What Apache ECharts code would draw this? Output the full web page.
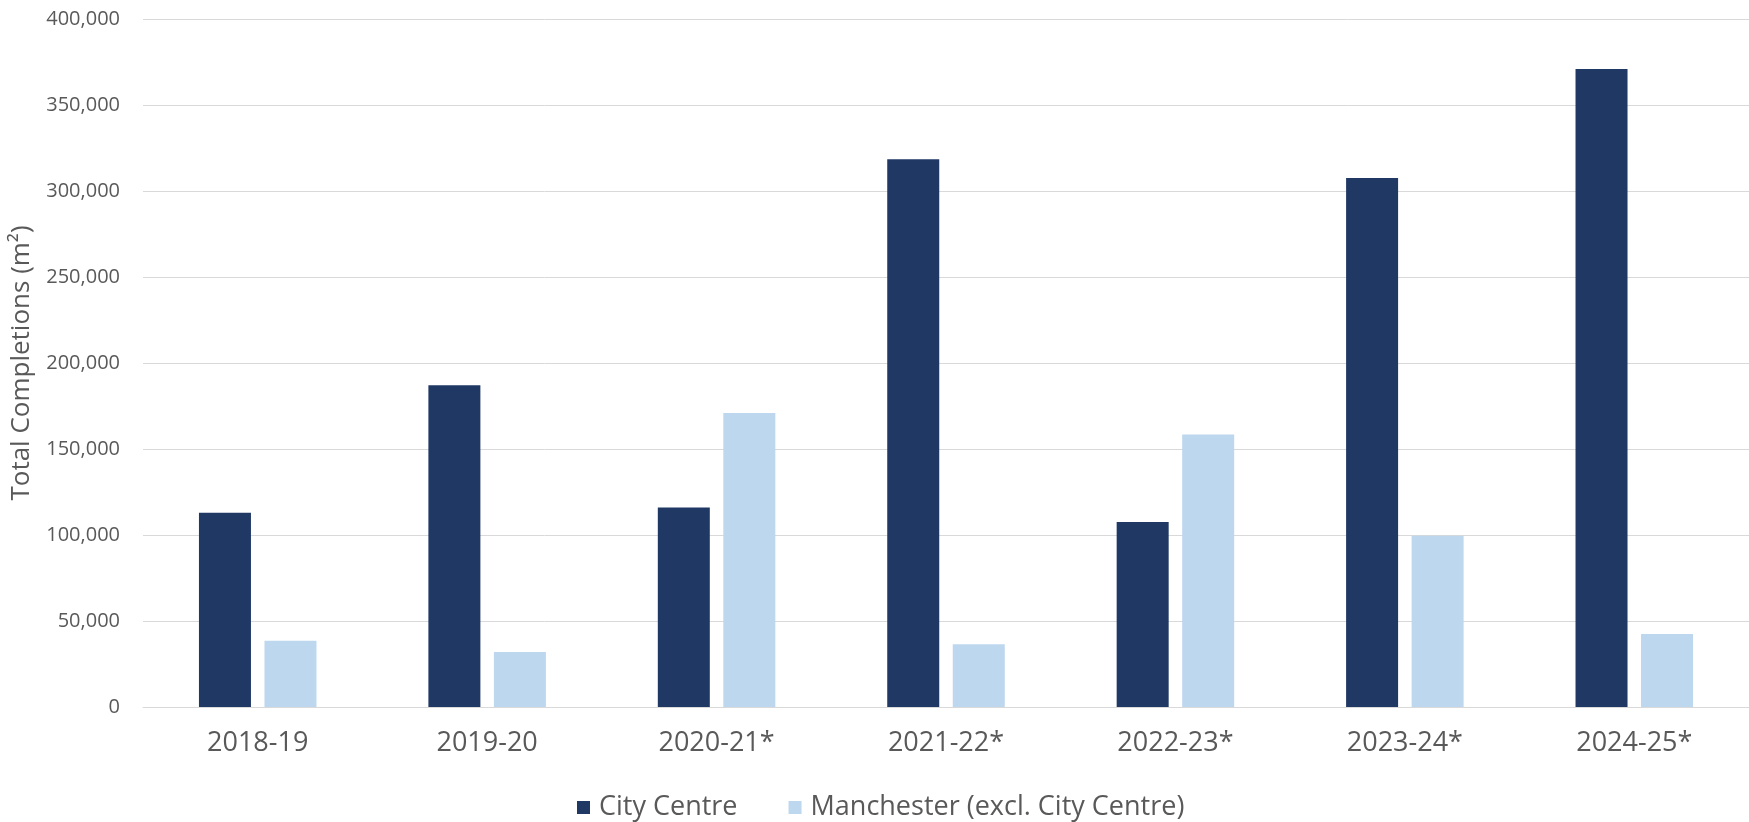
<!DOCTYPE html>
<html>
<head>
<meta charset="utf-8">
<script src="https://cdn.jsdelivr.net/npm/echarts@6/dist/echarts.min.js"></script>
<style>
  html, body { margin: 0; padding: 0; background: #ffffff; }
  #chart { width: 1749px; height: 822px; }
</style>
</head>
<body>
<div id="chart"></div>
<script>
const categories = ['2018-19', '2019-20', '2020-21*', '2021-22*', '2022-23*', '2023-24*', '2024-25*'];
const cityCentre = [113000, 187000, 116000, 318500, 107500, 307500, 371000];
const manchesterExcl = [38500, 32000, 171000, 36500, 158500, 99500, 42500];
const seriesNames = ['City Centre', 'Manchester (excl. City Centre)'];
const yAxisTitle = 'Total Completions (m²)';

const chart = echarts.init(document.getElementById('chart'), null, { renderer: 'canvas' });
const font = '"Open Sans", "Noto Sans", sans-serif';
chart.setOption({
  backgroundColor: '#ffffff',
  animation: false,
  grid: { left: 143, top: 19, width: 1611, height: 688, containLabel: false },
  legend: {
    left: 572,
    top: 789,
    icon: 'rect',
    itemWidth: 13,
    itemHeight: 13,
    itemGap: 51,
    textStyle: { fontFamily: font, fontSize: 27, color: '#595959', padding: [0, 0, 0, 4] },
    data: seriesNames
  },
  xAxis: {
    type: 'category',
    data: categories,
    axisLine: { show: true, lineStyle: { color: '#d9d9d9', width: 1 } },
    axisTick: { show: false },
    axisLabel: { fontFamily: font, fontSize: 27, color: '#595959', margin: 23 }
  },
  yAxis: {
    type: 'value',
    min: 0,
    max: 400000,
    interval: 50000,
    name: yAxisTitle,
    nameLocation: 'middle',
    nameGap: 108,
    nameTextStyle: { fontFamily: font, fontSize: 26, color: '#595959' },
    axisLine: { show: false },
    axisTick: { show: false },
    splitLine: { lineStyle: { color: '#d9d9d9', width: 1 } },
    axisLabel: {
      fontFamily: font, fontSize: 20, color: '#595959', margin: 23,
      formatter: v => v.toLocaleString('en-US')
    }
  },
  series: [
    { name: seriesNames[0], type: 'bar', data: cityCentre, barWidth: 52, barGap: '26%',
      itemStyle: { color: '#1f3864' } },
    { name: seriesNames[1], type: 'bar', data: manchesterExcl, barWidth: 52, barGap: '26%',
      itemStyle: { color: '#bdd7ee' } }
  ]
});
</script>
</body>
</html>
